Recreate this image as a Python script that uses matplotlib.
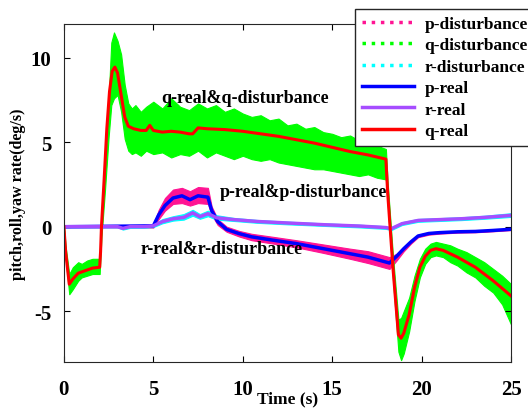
import numpy as np
import matplotlib
matplotlib.use("Agg")
import matplotlib.pyplot as plt
from matplotlib.lines import Line2D

plt.rcParams['font.family'] = ['Liberation Serif', 'DejaVu Serif']
plt.rcParams['font.weight'] = 'bold'
plt.rcParams['axes.unicode_minus'] = False

# q channel (pitch rate)
t_q = [0, 0.1, 0.3, 0.5, 0.8, 1.2, 1.6, 2.0, 2.05, 2.1, 2.25, 2.4, 2.55, 2.7, 2.85,
       3.0, 3.2, 3.4, 3.6, 3.9, 4.3, 4.6, 4.8, 5.0, 5.5, 6.0, 6.5, 7.0, 7.2, 7.5,
       8.0, 9.0, 10.0, 11.0, 12.0, 13.0, 14.0, 15.0, 16.0, 17.0, 18.0, 18.1, 18.4,
       18.7, 18.85, 19.0, 19.3, 19.6, 19.9, 20.2, 20.5, 20.8, 21.2, 22.0, 23.0, 24.0, 25.0]
q_real = [0, -1.5, -3.4, -3.1, -2.75, -2.6, -2.45, -2.4, -1.5, 0.0, 2.8, 5.8, 8.0, 9.2, 9.45,
          9.1, 7.8, 6.5, 5.95, 5.8, 5.7, 5.7, 6.0, 5.7, 5.6, 5.65, 5.6, 5.5, 5.5, 5.85,
          5.8, 5.75, 5.65, 5.5, 5.35, 5.15, 4.95, 4.7, 4.45, 4.25, 4.0, 2.0, -2.5,
          -6.4, -6.6, -6.3, -5.2, -3.6, -2.4, -1.75, -1.4, -1.3, -1.4, -1.8, -2.4, -3.2, -4.1]

t_qd = [0, 0.1, 0.3, 0.5, 0.8, 1.0, 1.3, 1.6, 2.0, 2.1, 2.3, 2.5, 2.65, 2.8, 3.0, 3.2,
        3.4, 3.6, 3.8, 4.0, 4.3, 4.6, 5.0, 5.5, 6.0, 6.5, 7.0, 7.5, 8.0, 8.5, 9.0, 9.5,
        10, 10.5, 11, 11.5, 12, 12.5, 13, 13.5, 14, 14.5, 15, 15.5, 16, 16.5, 17, 17.5,
        18.0, 18.1, 18.4, 18.7, 18.85, 19.0, 19.3, 19.6, 19.9, 20.2, 20.5, 20.8, 21.2,
        21.6, 22.0, 22.5, 23.0, 23.5, 24.0, 24.5, 25.0]
q_dist_up = [0.05, -1.2, -2.8, -2.4, -2.1, -2.2, -2.0, -1.9, -1.9, 0.6, 4.2, 7.6, 10.9, 11.5, 11.0, 10.2,
             8.4, 7.3, 7.0, 7.2, 6.8, 7.1, 7.4, 7.0, 7.6, 7.1, 6.9, 7.3, 7.0, 7.2, 6.8, 7.0,
             6.7, 6.5, 6.6, 6.3, 6.4, 6.0, 6.1, 5.8, 5.9, 5.6, 5.5, 5.3, 5.4, 5.1, 5.0, 4.8,
             4.6, 2.6, -1.8, -5.5, -5.4, -5.0, -4.2, -2.9, -1.9, -1.3, -1.0, -0.9, -1.0,
             -1.1, -1.3, -1.5, -1.8, -2.1, -2.5, -2.9, -3.4]
q_dist_lo = [-0.05, -1.9, -4.0, -3.7, -3.2, -3.0, -2.9, -2.8, -2.8, -0.6, 2.2, 5.3, 7.2, 7.6, 7.8, 6.8,
             5.2, 4.5, 4.3, 4.4, 4.2, 4.5, 4.3, 4.4, 4.1, 4.3, 4.2, 4.5, 4.1, 4.4, 4.2, 4.0,
             4.2, 4.0, 3.9, 4.0, 3.8, 3.7, 3.6, 3.5, 3.4, 3.4, 3.3, 3.2, 3.1, 3.0, 3.1, 2.9,
             2.8, 1.4, -3.2, -7.4, -7.9, -7.5, -6.2, -4.4, -3.0, -2.2, -1.8, -1.7, -1.8,
             -2.1, -2.3, -2.7, -3.0, -3.5, -3.9, -4.6, -5.8]

# p channel (roll rate)
t_p = [0, 5.0, 5.3, 5.65, 6.1, 6.6, 7.05, 7.5, 8.05, 8.26, 8.6, 9.1, 9.8, 10.5, 11.7,
       13.0, 14.5, 16.0, 17.0, 18.2, 18.6, 19.0, 19.4, 19.8, 20.4, 21.0, 22.0, 23.0, 24.0, 25.0]
p_real = [0, 0.05, 0.7, 1.25, 1.7, 1.83, 1.6, 1.83, 1.75, 0.96, 0.3, -0.16, -0.41, -0.6, -0.8,
          -1.0, -1.3, -1.6, -1.8, -2.15, -1.75, -1.3, -0.9, -0.55, -0.4, -0.35, -0.3, -0.28, -0.22, -0.15]
p_dist_up = [0.02, 0.1, 1.0, 1.7, 2.2, 2.3, 2.1, 2.35, 2.3, 1.2, 0.45, 0.0, -0.25, -0.42, -0.6,
             -0.8, -1.05, -1.3, -1.45, -1.8, -1.6, -1.2, -0.8, -0.48, -0.33, -0.29, -0.25, -0.23, -0.18, -0.11]
p_dist_lo = [-0.02, -0.05, 0.45, 0.95, 1.35, 1.4, 1.25, 1.4, 1.35, 0.7, 0.1, -0.3, -0.58, -0.8, -1.0,
             -1.22, -1.55, -1.9, -2.15, -2.5, -2.0, -1.45, -1.0, -0.62, -0.47, -0.41, -0.35, -0.33, -0.27, -0.2]

# r channel (yaw rate)
t_r = [0, 3.0, 3.3, 3.7, 4.5, 5.0, 5.5, 6.1, 6.7, 7.2, 7.6, 8.05, 8.54, 9.5, 10.8,
       12.5, 14.5, 16.5, 18.0, 18.3, 18.9, 19.8, 21.0, 22.2, 23.5, 25.0]
r_real = [0, 0, -0.1, 0.0, 0.0, 0.05, 0.3, 0.47, 0.55, 0.82, 0.59, 0.77, 0.53, 0.42, 0.31,
          0.22, 0.12, 0.04, -0.05, -0.12, 0.18, 0.37, 0.42, 0.47, 0.55, 0.67]
r_dist_up = [0.04, 0.04, -0.03, 0.06, 0.06, 0.12, 0.45, 0.62, 0.75, 1.0, 0.75, 0.95, 0.68, 0.52, 0.4,
             0.3, 0.2, 0.12, 0.03, -0.04, 0.27, 0.46, 0.51, 0.56, 0.65, 0.8]
r_dist_lo = [-0.04, -0.04, -0.17, -0.07, -0.06, -0.02, 0.2, 0.36, 0.42, 0.65, 0.47, 0.62, 0.42, 0.34, 0.23,
             0.14, 0.05, -0.04, -0.13, -0.2, 0.1, 0.29, 0.34, 0.39, 0.47, 0.58]

c_p, c_q, c_r = '#ff1493', '#00ff00', '#00ffff'
c_preal, c_rreal, c_qreal = '#0000ff', '#a64dff', '#ff0000'

fig = plt.figure(figsize=(5.28, 4.10), dpi=100)
ax = fig.add_axes([0.121, 0.115, 0.847, 0.824])

ax.fill_between(t_p, p_dist_lo, p_dist_up, color=c_p, lw=0.8)
ax.fill_between(t_qd, q_dist_lo, q_dist_up, color=c_q, lw=0.8)
ax.fill_between(t_r, r_dist_lo, r_dist_up, color=c_r, lw=0.8)
ax.plot(t_p, p_real, color=c_preal, lw=2.5)
ax.plot(t_r, r_real, color=c_rreal, lw=2.5)
ax.plot(t_q, q_real, color=c_qreal, lw=2.2)

ax.set_xlim(0, 25)
ax.set_ylim(-8, 12)
ax.set_xticks([0, 5, 10, 15, 20, 25])
ax.set_yticks([-5, 0, 5, 10])
ax.tick_params(direction='in', top=True, right=True, length=4, labelsize=15)
ax.tick_params(axis='x', pad=12)
ax.tick_params(axis='y', pad=9)
for s in ax.spines.values():
    s.set_color('#262626')
ax.set_xlabel('Time (s)', fontsize=12.5, fontweight='bold', labelpad=-6)
ax.set_ylabel('pitch,roll,yaw rate(deg/s)', fontsize=11.6, fontweight='bold', labelpad=3)

ax.text(10.12, 7.66, 'q-real&q-disturbance', fontsize=13, ha='center', va='center')
ax.text(13.37, 2.06, 'p-real&p-disturbance', fontsize=13, ha='center', va='center')
ax.text(8.8, -1.3, 'r-real&r-disturbance', fontsize=13, ha='center', va='center')

handles = [Line2D([], [], color=c_p, ls=':', lw=2.5),
           Line2D([], [], color=c_q, ls=':', lw=2.5),
           Line2D([], [], color=c_r, ls=':', lw=2.5),
           Line2D([], [], color=c_preal, lw=2.5),
           Line2D([], [], color=c_rreal, lw=2.5),
           Line2D([], [], color=c_qreal, lw=2.5)]
labels = ['p-disturbance', 'q-disturbance', 'r-disturbance', 'p-real', 'r-real', 'q-real']
leg = fig.legend(handles, labels, loc='upper left', bbox_to_anchor=(355 / 528, 1 - 10 / 410),
                 fontsize=12.5, fancybox=False, framealpha=1, edgecolor='#262626',
                 handlelength=3.0, labelspacing=0.3, borderaxespad=0, handletextpad=0.6)
leg.get_frame().set_linewidth(1.0)

fig.savefig('out.png', dpi=100)
